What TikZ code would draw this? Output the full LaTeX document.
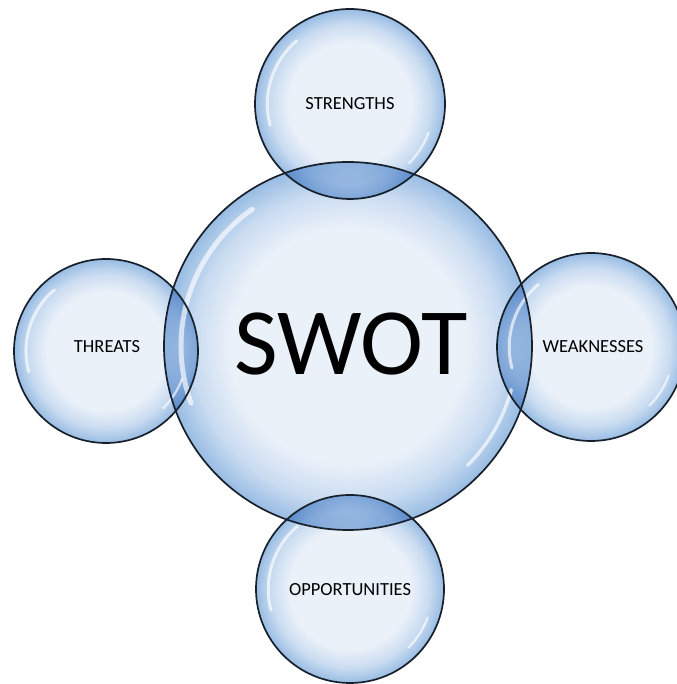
\documentclass[tikz,border=0pt]{standalone}
\usepackage{fontspec}
\setmainfont{Carlito}
\definecolor{bubin}{HTML}{EBF1F9}
\definecolor{bubmid}{HTML}{CADCF1}
\definecolor{bubout}{HTML}{98BCE3}
\definecolor{rimcol}{HTML}{17202B}
\pgfdeclareradialshading{bubble}{\pgfpoint{0bp}{0bp}}{color(0bp)=(bubin); color(16bp)=(bubin); color(21bp)=(bubmid); color(25bp)=(bubout); color(50bp)=(bubout)}
\tikzset{
  bubble/.style={circle, inner sep=0pt, outer sep=0pt, shading=bubble, blend mode=multiply},
  rim/.style={draw=rimcol, line width=1.7pt},
  shine/.style={draw=white, line cap=round, opacity=0.65},
  lbl/.style={font=\fontsize{18.5}{22}\selectfont, text=black, inner sep=0pt},
  big/.style={font=\fontsize{95}{110}\selectfont, text=black, inner sep=0pt}
}
\begin{document}
\begin{tikzpicture}[x=1pt,y=1pt]
\useasboundingbox (0,0) rectangle (676,684);
% bubbles
\node[bubble, minimum size=368pt] (c) at (348,338) {};
\node[bubble, minimum size=190pt] (s) at (350,580) {};
\node[bubble, minimum size=184pt] (t) at (106,333) {};
\node[bubble, minimum size=188pt] (w) at (591,337) {};
\node[bubble, minimum size=188pt] (o) at (350,95) {};
% highlights
\draw[shine, line width=5pt] (c.center) ++(125:167) arc[start angle=125, end angle=200, radius=167];
\draw[shine, line width=3.5pt] (c.center) ++(-15:169) arc[start angle=-15, end angle=-45, radius=169];
\foreach \n/\r in {s/95, t/92, w/94, o/94}{
  \draw[shine, line width=3pt] (\n.center) ++(130:\r*0.87) arc[start angle=130, end angle=195, radius=\r*0.87];
  \draw[shine, line width=2.2pt] (\n.center) ++(-20:\r*0.88) arc[start angle=-20, end angle=-45, radius=\r*0.88];
}
% outlines
\draw[rim] (c.center) circle[radius=184];
\draw[rim] (s.center) circle[radius=95];
\draw[rim] (t.center) circle[radius=92];
\draw[rim] (w.center) circle[radius=94];
\draw[rim] (o.center) circle[radius=94];
% texts
\node[big] (swot) at (351,340) {SWOT};
\node[lbl] (sl) at (350,580) {STRENGTHS};
\node[lbl] (tl) at (107,337) {THREATS};
\node[lbl] (wl) at (593,337) {WEAKNESSES};
\node[lbl] (ol) at (350,94) {OPPORTUNITIES};
\end{tikzpicture}
\end{document}
